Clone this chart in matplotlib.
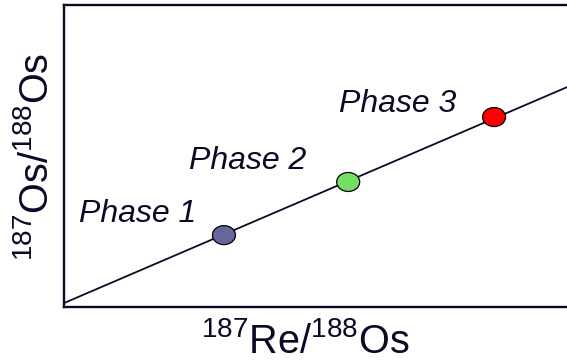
import matplotlib
matplotlib.use('Agg')
import matplotlib.pyplot as plt
from matplotlib.patches import Ellipse
import numpy as np

plt.rcParams['font.family'] = ['Liberation Sans', 'DejaVu Sans']
plt.rcParams['mathtext.fontset'] = 'custom'
plt.rcParams['mathtext.rm'] = 'Liberation Sans'

# isochron line and the three phases (arbitrary units)
line_x = [0.0, 10.0]
line_y = [0.13, 7.28]

phase_names = ['Phase 1', 'Phase 2', 'Phase 3']
phase_x = [3.18, 5.65, 8.55]
phase_y = [2.38, 4.14, 6.29]
phase_colors = ['#666699', '#77dd66', '#ff0000']

label_x = [0.30, 2.49, 5.47]
label_y = [2.81, 4.57, 6.46]

ink = '#0a0a26'

fig = plt.figure(figsize=(5.67, 3.6), dpi=100)
ax = fig.add_axes([64/567, 1 - 307/360, (567 - 64)/567, (307 - 5)/360])
ax.set_xlim(0, 10)
ax.set_ylim(0, 10)

ax.plot(line_x, line_y, color=ink, lw=1.3, zorder=2)

# ellipse size in data units (~23 x 19 px)
ew = 23 / 503 * 10
eh = 19 / 302 * 10
for x, y, c in zip(phase_x, phase_y, phase_colors):
    ax.add_patch(Ellipse((x, y), ew, eh, facecolor=c, edgecolor='black',
                         lw=0.9, zorder=3))

for name, x, y in zip(phase_names, label_x, label_y):
    ax.text(x, y, name, fontsize=23, style='italic', color=ink,
            ha='left', va='baseline')

ax.set_xticks([])
ax.set_yticks([])
ax.spines['right'].set_visible(False)
for s in ['left', 'top', 'bottom']:
    ax.spines[s].set_linewidth(1.7)
    ax.spines[s].set_color(ink)

fig.text(305/567, 1 - 353/360, r'$\mathregular{^{187}Re/^{188}Os}$',
         fontsize=28.5, color=ink, ha='center', va='baseline')
fig.text(37/567, 1 - 157/360, r'$\mathregular{^{187}Os/^{188}Os}$',
         fontsize=28.5, color=ink, ha='center', va='center', rotation=90)

fig.savefig('out.png', dpi=100)
